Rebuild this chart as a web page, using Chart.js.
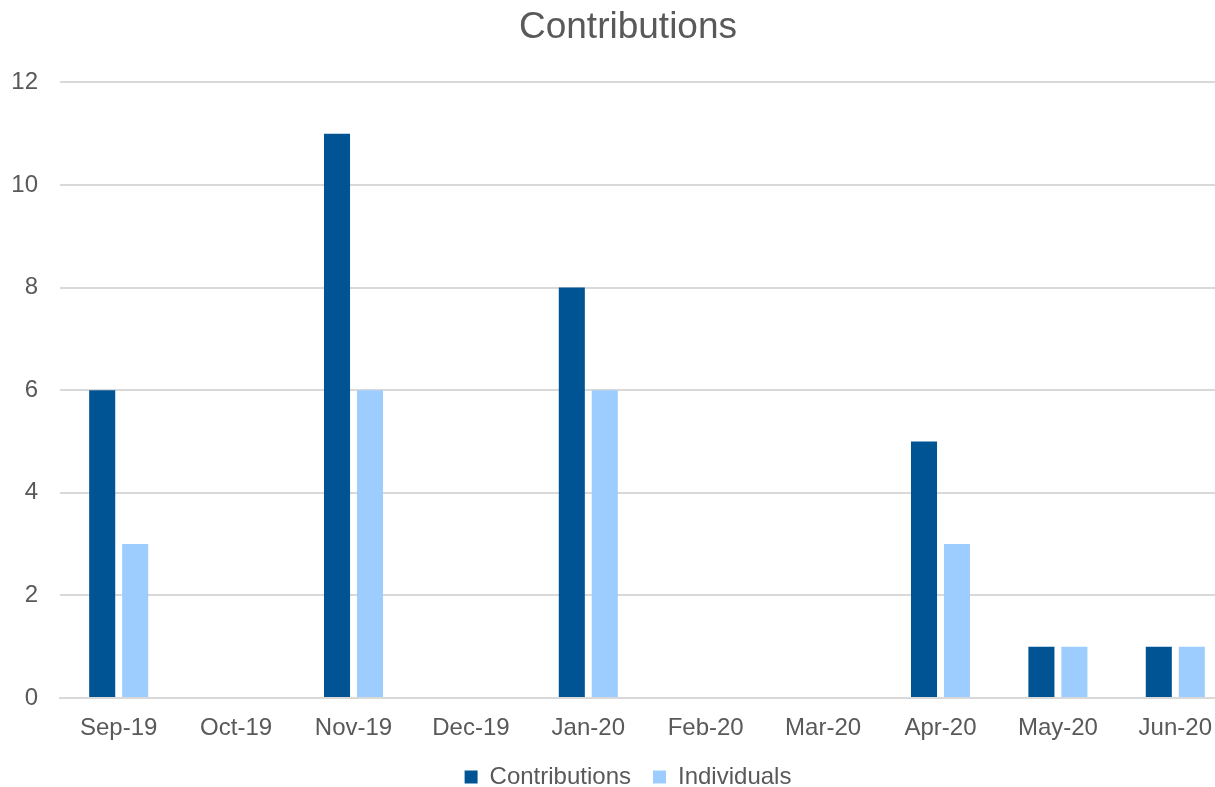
<!DOCTYPE html>
<html>
<head>
<meta charset="utf-8">
<script src="https://cdn.jsdelivr.net/npm/chart.js@4"></script>
<style>
  html, body { margin: 0; padding: 0; background: #fff; overflow: hidden; }
  /* the source chart is cut off on its right side, so the canvas is wider than the window */
  #wrap { width: 1256px; height: 787px; }
</style>
</head>
<body>
<div id="wrap"><canvas id="bar-chart"></canvas></div>
<script>
var months = ["Sep-19", "Oct-19", "Nov-19", "Dec-19", "Jan-20", "Feb-20", "Mar-20", "Apr-20", "May-20", "Jun-20"];
var contributions = [6, 0, 11, 0, 8, 0, 0, 5, 1, 1];
var individuals = [3, 0, 6, 0, 6, 0, 0, 3, 1, 1];

Chart.defaults.font.family = "'Liberation Sans', Arial, sans-serif";
Chart.defaults.color = '#595959';

document.addEventListener('DOMContentLoaded', function() {
    var ctx = document.getElementById("bar-chart").getContext('2d');
    new Chart(ctx, {
        type: 'bar',
        data: {
            labels: months,
            datasets: [{
                label: 'Contributions',
                backgroundColor: '#005494',
                data: contributions,
                categoryPercentage: 0.562,
                barPercentage: 0.79
            },
            {
                label: 'Individuals',
                backgroundColor: '#9dcdff',
                data: individuals,
                categoryPercentage: 0.562,
                barPercentage: 0.79
            }]
        },
        options: {
            responsive: true,
            maintainAspectRatio: false,
            animation: false,
            layout: { padding: { left: 0, right: 0, top: 0, bottom: -12 } },
            scales: {
                x: {
                    afterFit: function(scale) { scale.height = 45; },
                    grid: { display: false, drawTicks: false },
                    border: { color: '#d9d9d9', width: 2 },
                    ticks: { font: { size: 24 }, padding: 16, maxRotation: 0 }
                },
                y: {
                    min: 0,
                    max: 12,
                    afterFit: function(scale) { scale.width = 60; },
                    grid: { color: '#d9d9d9', lineWidth: 2, drawTicks: false },
                    border: { display: false },
                    ticks: { stepSize: 2, font: { size: 24 }, padding: 22 }
                },
                // empty spacer on the right, keeps the title centred on the whole chart
                spacer: {
                    position: 'right',
                    afterFit: function(scale) { scale.width = 22; },
                    grid: { display: false, drawTicks: false },
                    border: { display: false },
                    ticks: { display: false }
                }
            },
            plugins: {
                title: {
                    display: true,
                    text: 'Contributions',
                    font: { size: 37, weight: 'normal' },
                    color: '#595959',
                    padding: { top: 6, bottom: 32 }
                },
                legend: {
                    position: 'bottom',
                    labels: {
                        font: { size: 24 },
                        boxWidth: 13,
                        boxHeight: 13,
                        padding: 22
                    }
                },
                tooltip: { enabled: false }
            }
        }
    });
});
</script>
</body>
</html>
